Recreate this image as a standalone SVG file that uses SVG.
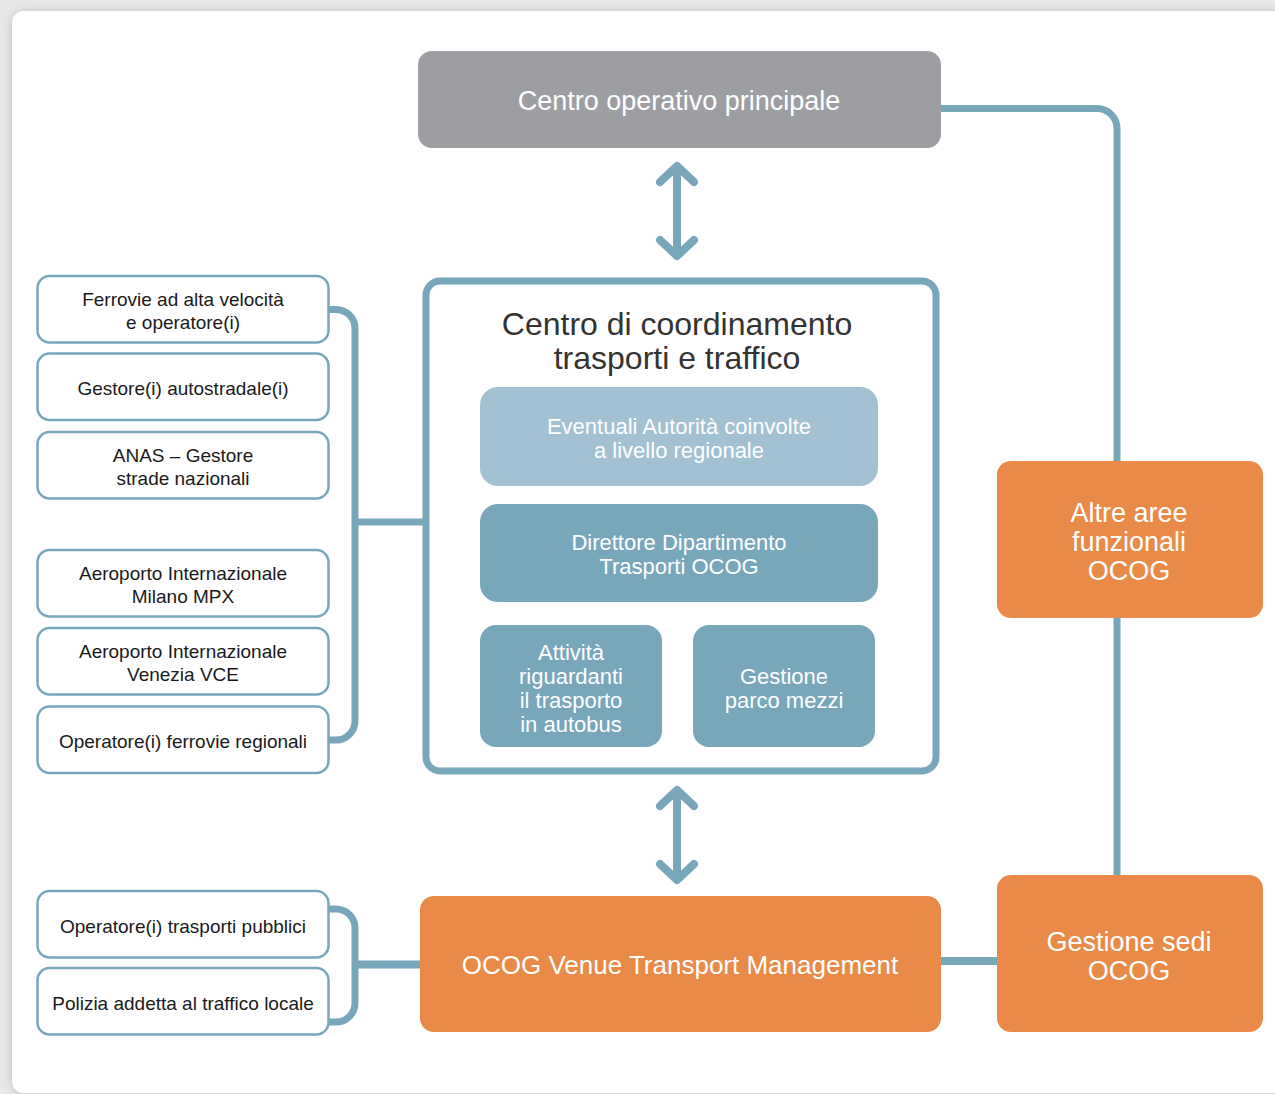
<svg xmlns="http://www.w3.org/2000/svg" width="1275" height="1094" viewBox="0 0 1275 1094">
  <defs>
    <filter id="shadow" x="-5%" y="-5%" width="110%" height="110%">
      <feGaussianBlur in="SourceAlpha" stdDeviation="5"/>
      <feOffset dx="0" dy="1" result="b"/>
      <feFlood flood-color="#000" flood-opacity="0.18"/>
      <feComposite in2="b" operator="in"/>
      <feMerge><feMergeNode/><feMergeNode in="SourceGraphic"/></feMerge>
    </filter>
    <style>
      text { font-family: "Liberation Sans", Arial, sans-serif; text-anchor: middle; }
      .lb { fill: #ffffff; stroke: #78a7bc; stroke-width: 2.5; }
      .lt { font-size: 19px; fill: #1a1a1a; }
      .wt { fill: #ffffff; }
      .conn { fill: none; stroke: #78a7bc; stroke-linecap: butt; }
      .arrow { fill: none; stroke: #78a7bc; stroke-width: 8; stroke-linecap: round; stroke-linejoin: round; }
      .orange { fill: #e98a48; }
      .mid { fill: #78a7bc; }
    </style>
  </defs>

  <rect x="0" y="0" width="1275" height="1094" fill="#e9e8e6"/>
  <rect x="12" y="11" width="1300" height="1082" rx="12" fill="#ffffff" filter="url(#shadow)"/>

  <g id="connectors">
    <path class="conn" stroke-width="7" d="M329,309.5 H336 A19 19 0 0 1 355,328.5 V721 A19 19 0 0 1 336,740 H329"/>
    <path class="conn" stroke-width="7" d="M355,522 H426"/>
    <path class="conn" stroke-width="7" d="M329,909 H336 A19 19 0 0 1 355,928 V1003 A19 19 0 0 1 336,1022 H329"/>
    <path class="conn" stroke-width="8" d="M355,964.5 H421"/>
    <path class="conn" stroke-width="7" d="M940,108.5 H1097 A20 20 0 0 1 1117,128.5 V462"/>
    <path class="conn" stroke-width="7" d="M1117,617 V876"/>
    <path class="conn" stroke-width="8" d="M940,961 H998"/>
    <path class="arrow" d="M677,168 V255 M660,182 L677,166 L694,182 M660,240 L677,256 L694,240"/>
    <path class="arrow" d="M677,792 V878 M660,806 L677,790 L694,806 M660,864 L677,880 L694,864"/>
  </g>

  <g id="centro-operativo">
    <rect x="418" y="51" width="523" height="97" rx="14" fill="#9d9ea2"/>
    <text x="679" y="110" class="wt" font-size="27">Centro operativo principale</text>
  </g>

  <g id="centro-coordinamento">
    <rect x="426" y="281" width="510" height="490" rx="14" fill="#ffffff" stroke="#78a7bc" stroke-width="7"/>
    <text x="677" y="335" font-size="32" fill="#333333">Centro di coordinamento</text>
    <text x="677" y="369" font-size="32" fill="#333333">trasporti e traffico</text>
  </g>

  <g id="eventuali-autorita">
    <rect x="480" y="387" width="398" height="99" rx="18" fill="#a2c2d3"/>
    <text x="679" y="434" class="wt" font-size="22">Eventuali Autorità coinvolte</text>
    <text x="679" y="458" class="wt" font-size="22">a livello regionale</text>
  </g>

  <g id="direttore">
    <rect x="480" y="504" width="398" height="98" rx="18" class="mid"/>
    <text x="679" y="550" class="wt" font-size="22">Direttore Dipartimento</text>
    <text x="679" y="574" class="wt" font-size="22">Trasporti OCOG</text>
  </g>

  <g id="attivita-autobus">
    <rect x="480" y="625" width="182" height="122" rx="16" class="mid"/>
    <text x="571" y="660" class="wt" font-size="22">Attività</text>
    <text x="571" y="684" class="wt" font-size="22">riguardanti</text>
    <text x="571" y="708" class="wt" font-size="22">il trasporto</text>
    <text x="571" y="732" class="wt" font-size="22">in autobus</text>
  </g>

  <g id="gestione-parco">
    <rect x="693" y="625" width="182" height="122" rx="16" class="mid"/>
    <text x="784" y="684" class="wt" font-size="22">Gestione</text>
    <text x="784" y="708" class="wt" font-size="22">parco mezzi</text>
  </g>

  <g id="ferrovie-alta-velocita">
    <rect x="37.5" y="276" width="291" height="66.5" rx="12" class="lb"/>
    <text x="183" y="306" class="lt">Ferrovie ad alta velocità</text>
    <text x="183" y="329" class="lt">e operatore(i)</text>
  </g>
  <g id="gestore-autostradale">
    <rect x="37.5" y="353.5" width="291" height="66.5" rx="12" class="lb"/>
    <text x="183" y="395" class="lt">Gestore(i) autostradale(i)</text>
  </g>
  <g id="anas">
    <rect x="37.5" y="432" width="291" height="66.5" rx="12" class="lb"/>
    <text x="183" y="462" class="lt">ANAS – Gestore</text>
    <text x="183" y="485" class="lt">strade nazionali</text>
  </g>
  <g id="aeroporto-milano">
    <rect x="37.5" y="550" width="291" height="66.5" rx="12" class="lb"/>
    <text x="183" y="580" class="lt">Aeroporto Internazionale</text>
    <text x="183" y="603" class="lt">Milano MPX</text>
  </g>
  <g id="aeroporto-venezia">
    <rect x="37.5" y="628" width="291" height="66.5" rx="12" class="lb"/>
    <text x="183" y="658" class="lt">Aeroporto Internazionale</text>
    <text x="183" y="681" class="lt">Venezia VCE</text>
  </g>
  <g id="ferrovie-regionali">
    <rect x="37.5" y="706.5" width="291" height="66.5" rx="12" class="lb"/>
    <text x="183" y="748" class="lt">Operatore(i) ferrovie regionali</text>
  </g>

  <g id="trasporti-pubblici">
    <rect x="37.5" y="891" width="291" height="66.5" rx="12" class="lb"/>
    <text x="183" y="933" class="lt">Operatore(i) trasporti pubblici</text>
  </g>
  <g id="polizia">
    <rect x="37.5" y="968" width="291" height="66.5" rx="12" class="lb"/>
    <text x="183" y="1010" class="lt">Polizia addetta al traffico locale</text>
  </g>

  <g id="ocog-venue">
    <rect x="420" y="896" width="521" height="136" rx="14" class="orange"/>
    <text x="680" y="974" class="wt" font-size="26">OCOG Venue Transport Management</text>
  </g>

  <g id="altre-aree">
    <rect x="997" y="461" width="266" height="157" rx="14" class="orange"/>
    <text x="1129" y="522" class="wt" font-size="27">Altre aree</text>
    <text x="1129" y="551" class="wt" font-size="27">funzionali</text>
    <text x="1129" y="580" class="wt" font-size="27">OCOG</text>
  </g>

  <g id="gestione-sedi">
    <rect x="997" y="875" width="266" height="157" rx="14" class="orange"/>
    <text x="1129" y="951" class="wt" font-size="27">Gestione sedi</text>
    <text x="1129" y="980" class="wt" font-size="27">OCOG</text>
  </g>
</svg>
